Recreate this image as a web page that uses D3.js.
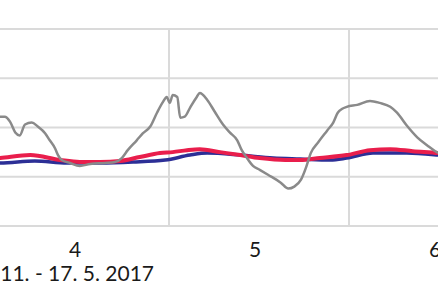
<!DOCTYPE html>
<html lang="en">
<head>
<meta charset="UTF-8">
<script src="https://cdn.jsdelivr.net/npm/d3@7/dist/d3.min.js"></script>
<style>
  body { margin: 0; background: #fff; }
  .lbl { font-family: Lato, "Noto Sans", sans-serif; font-size: 21px; fill: #1a1a1a; }
</style>
</head>
<body>
<div id="chart"></div>
<script>
// hours since start of day 4, temperature
var outside = [[0,26.0],[1.5,26.1],[2.1,26.1],[2.8,25.6],[3.5,24.5],[4.1,24.2],[4.8,25.3],[5.7,25.5],[6.5,25.1],
  [7.5,24.4],[8.1,23.7],[8.8,22.9],[9.2,22.2],[9.7,21.7],[10.8,21.4],[12.1,21.1],[13.5,21.3],[15.5,21.4],
  [16.8,21.5],[17.7,21.9],[18.5,22.7],[19.7,23.7],[20.5,24.4],[21.5,25.1],[22.4,26.5],[23.2,27.6],[23.7,28.1],
  [24.1,27.5],[24.5,28.3],[25.1,28.1],[25.5,26.0],[26.1,26.1],[26.8,27.0],[27.7,28.1],[28.1,28.5],[29.1,27.8],
  [30.1,26.6],[31.2,25.3],[32.1,24.5],[33.1,23.7],[33.7,22.7],[34.4,21.9],[35.2,21.1],[36.1,20.7],[37.2,20.2],
  [38.9,19.4],[39.9,18.8],[40.7,19.0],[41.6,19.7],[42.3,21.0],[42.9,22.4],[43.9,23.5],[45.1,24.7],[45.9,25.5],
  [46.5,26.5],[47.1,26.9],[47.7,27.1],[49.1,27.3],[50.8,27.7],[52.1,27.5],[53.5,27.1],[54.4,26.5],[55.7,25.2],
  [57.1,24.0],[58.4,23.2],[59.7,22.5],[60.8,22.2]];
var inside = [[0,21.4],[1.5,21.4],[6.1,21.6],[10.4,21.4],[14.8,21.4],[19.2,21.5],[23.5,21.7],[26.8,22.2],
  [29.1,22.4],[33.5,22.2],[37.9,21.9],[41.5,21.8],[45.5,21.7],[47.7,21.9],[51.2,22.4],[55.7,22.4],[59.9,22.2],[61.3,22.1]];
var model = [[0,21.8],[1.5,21.9],[5.5,22.2],[9.5,21.7],[12.1,21.5],[14.8,21.5],[17.5,21.6],[20.1,22.0],[22.8,22.4],
  [24.5,22.5],[26.4,22.7],[28.1,22.8],[30.8,22.5],[33.5,22.2],[36.1,21.9],[39.5,21.7],[41.5,21.7],[44.1,21.9],
  [47.7,22.2],[50.8,22.7],[53.5,22.8],[56.5,22.6],[59.9,22.4],[61.3,22.3]];
var dayLabels = ["4", "5", "6"];
var weekLabel = "11. - 17. 5. 2017";
var yTicks = [15, 20, 25, 30, 35];
var dayBounds = [24, 48];

var width = 438, height = 292;
var svg = d3.select("#chart").append("svg")
    .attr("width", width)
    .attr("height", height);

var x = d3.scaleLinear().domain([0, 72]).range([-11, 529]);
var y = d3.scaleLinear().domain([15, 35]).range([226, 29]);

// grid
svg.append("g").selectAll("line").data(yTicks).enter().append("line")
    .attr("x1", 0).attr("x2", width)
    .attr("y1", function(d) { return y(d); })
    .attr("y2", function(d) { return y(d); })
    .attr("stroke", "#dadada").attr("stroke-width", 2);

svg.append("g").selectAll("line").data(dayBounds).enter().append("line")
    .attr("x1", function(d) { return x(d); })
    .attr("x2", function(d) { return x(d); })
    .attr("y1", y(35)).attr("y2", y(15))
    .attr("stroke", "#dadada").attr("stroke-width", 2);

var line = d3.line()
    .x(function(d) { return x(d[0]); })
    .y(function(d) { return y(d[1]); })
    .curve(d3.curveMonotoneX);

svg.append("path").datum(inside)
    .attr("d", line).attr("fill", "none")
    .attr("stroke", "#2c2f96").attr("stroke-width", 3.5);
svg.append("path").datum(model)
    .attr("d", line).attr("fill", "none")
    .attr("stroke", "#e91e4c").attr("stroke-width", 4);
svg.append("path").datum(outside)
    .attr("d", line).attr("fill", "none")
    .attr("stroke", "#8a8a8a").attr("stroke-width", 2.5)
    .attr("stroke-linejoin", "round");

// labels
svg.append("g").selectAll("text").data(dayLabels).enter().append("text")
    .attr("class", "lbl")
    .attr("x", function(d, i) { return x(12 + 24 * i) - 4; })
    .attr("y", 257)
    .attr("text-anchor", "middle")
    .text(function(d) { return d; });

svg.append("text")
    .attr("class", "lbl")
    .attr("x", 154).attr("y", 281)
    .attr("text-anchor", "end")
    .text(weekLabel);
</script>
</body>
</html>
